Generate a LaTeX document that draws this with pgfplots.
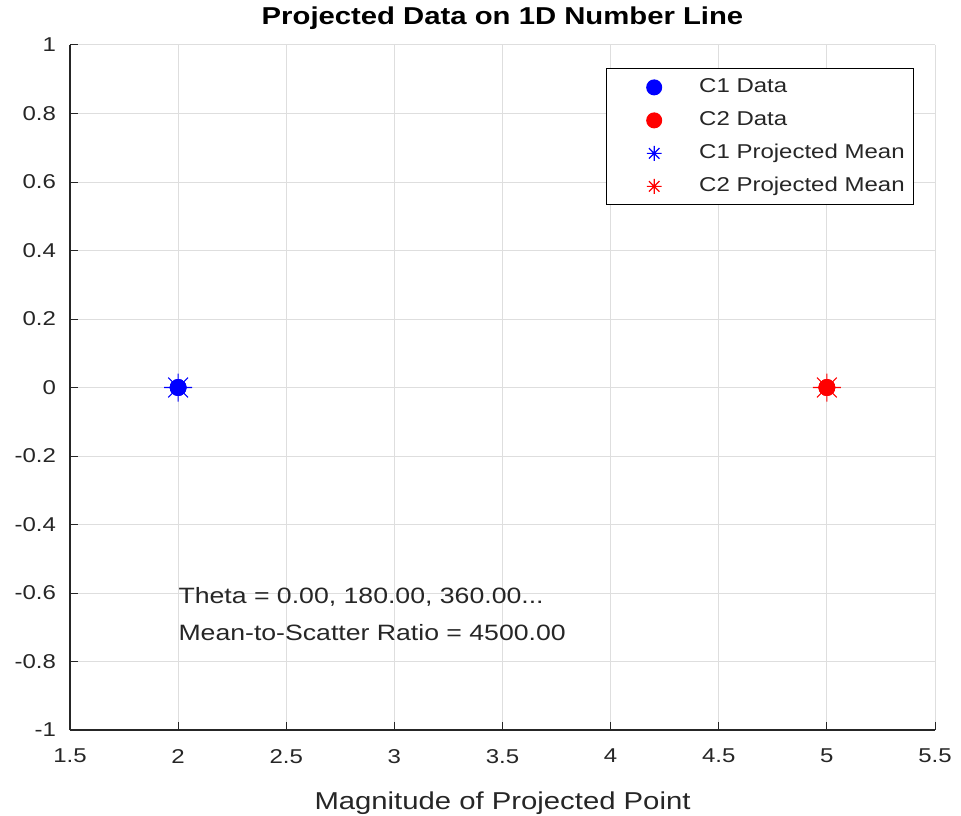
\documentclass[border=0pt]{standalone}
\usepackage{fontspec}
\setmainfont[FakeStretch=1.2]{Liberation Sans}
\usepackage{pgfplots}
\pgfplotsset{compat=1.18}

\definecolor{mlgray}{gray}{0.15}
\definecolor{mlgrid}{gray}{0.87}

% MATLAB style '*' marker: four strokes, eight arms
\pgfdeclareplotmark{mlstar}{%
  \pgfpathmoveto{\pgfqpoint{-\pgfplotmarksize}{0pt}}\pgfpathlineto{\pgfqpoint{\pgfplotmarksize}{0pt}}%
  \pgfpathmoveto{\pgfqpoint{0pt}{-\pgfplotmarksize}}\pgfpathlineto{\pgfqpoint{0pt}{\pgfplotmarksize}}%
  \pgfpathmoveto{\pgfqpoint{-0.707\pgfplotmarksize}{-0.707\pgfplotmarksize}}\pgfpathlineto{\pgfqpoint{0.707\pgfplotmarksize}{0.707\pgfplotmarksize}}%
  \pgfpathmoveto{\pgfqpoint{-0.707\pgfplotmarksize}{0.707\pgfplotmarksize}}\pgfpathlineto{\pgfqpoint{0.707\pgfplotmarksize}{-0.707\pgfplotmarksize}}%
  \pgfusepathqstroke}

\begin{document}
\begin{tikzpicture}
\begin{axis}[
  at={(0,0)}, anchor=south west,
  scale only axis, width=432.5pt, height=342.5pt,
  xmin=1.5, xmax=5.5, ymin=-1, ymax=1,
  xtick={1.5,2,...,5.5}, ytick={-1,-0.8,...,1},
  axis x line*=bottom, axis y line*=left,
  axis line style={-, mlgray, line width=0.6pt},
  /pgf/number format/assume math mode=true,
  /pgf/number format/fixed,
  ticklabel style={font=\fontsize{10}{12}\selectfont, text=mlgray},
  xticklabel style={yshift=-6pt},
  yticklabel style={xshift=-3.5pt},
  tick align=inside, major tick length=4pt,
  tick style={mlgray, line width=0.5pt},
  grid=major, major grid style={mlgrid, line width=0.5pt},
  title={\bfseries Projected Data on 1D Number Line},
  title style={font=\fontsize{12.2}{14}\selectfont, yshift=-2pt},
  xlabel={Magnitude of Projected Point},
  xlabel style={font=\fontsize{12.2}{14}\selectfont, text=mlgray, yshift=-7.5pt},
  legend style={at={(0.976,0.966)}, anchor=north east, draw=black, line width=0.6pt,
    font=\fontsize{10}{12}\selectfont, text=mlgray, row sep=6.5pt,
    inner xsep=4.5pt, inner ysep=4.25pt,
    nodes={inner sep=0pt, text height=7.5pt, text depth=2.5pt}},
  legend cell align=left,
  legend image code/.code={%
    \path[draw=none, fill=none] (0pt,0pt) -- (42pt,0pt);
    \draw[#1, mark size=3.7pt] plot coordinates {(19.5pt,0pt)};},
]
\addplot[only marks, mark=*, blue, mark size=4pt] coordinates {(2,0) (2,0) (2,0)};
\addlegendentry{C1 Data}
\addplot[only marks, mark=*, red, mark size=4pt] coordinates {(5,0) (5,0) (5,0)};
\addlegendentry{C2 Data}
\addplot[only marks, mark=mlstar, blue, mark size=7pt, line width=0.6pt] coordinates {(2,0)};
\addlegendentry{C1 Projected Mean}
\addplot[only marks, mark=mlstar, red, mark size=7pt, line width=0.6pt] coordinates {(5,0)};
\addlegendentry{C2 Projected Mean}
\node[anchor=west, font=\fontsize{11.1}{13}\selectfont, text=black!85, inner sep=0pt] at (axis cs:2,-0.61) {Theta = 0.00, 180.00, 360.00...};
\node[anchor=west, font=\fontsize{11.1}{13}\selectfont, text=black!85, inner sep=0pt] at (axis cs:2,-0.715) {Mean-to-Scatter Ratio = 4500.00};
\end{axis}
\pgfresetboundingbox
\path[use as bounding box] (-35pt,-42.5pt) rectangle (445.5pt,365pt);
\end{tikzpicture}
\end{document}
